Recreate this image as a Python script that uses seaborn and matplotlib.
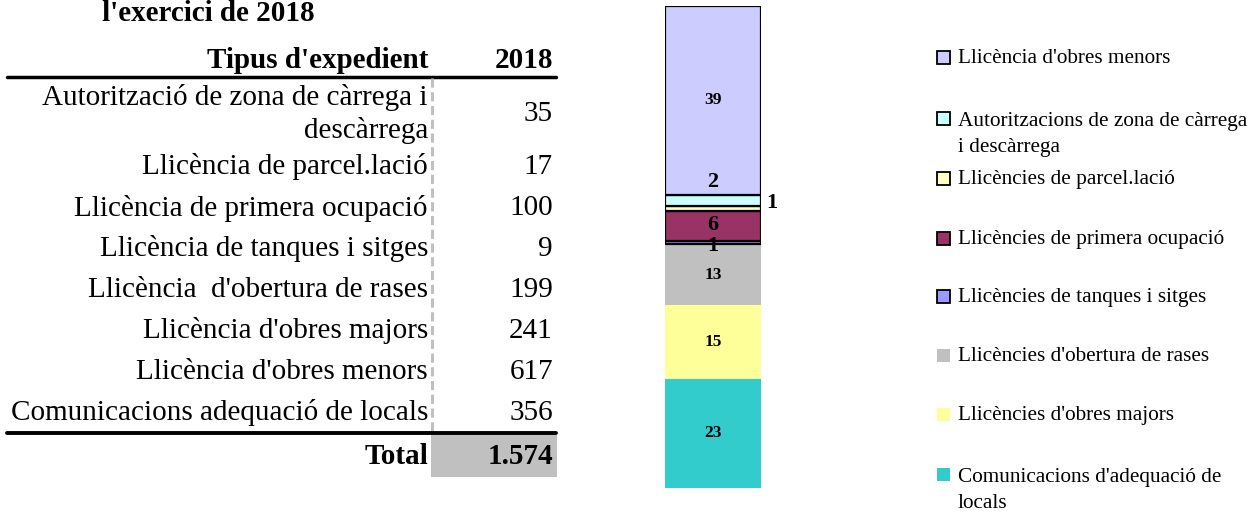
import matplotlib
matplotlib.use("Agg")
import matplotlib.pyplot as plt
from matplotlib.patches import Rectangle
from matplotlib.lines import Line2D
import seaborn as sns
import pandas as pd

# ---------------- data ----------------
table_labels = ["Autorització de zona de càrrega i\ndescàrrega",
                "Llicència de parcel.lació",
                "Llicència de primera ocupació",
                "Llicència de tanques i sitges",
                "Llicència  d'obertura de rases",
                "Llicència d'obres majors",
                "Llicència d'obres menors",
                "Comunicacions adequació de locals"]
table_values = [35, 17, 100, 9, 199, 241, 617, 356]
total_label = "1.574"

# stacked bar segments, bottom -> top
seg_names = ["Comunicacions d'adequació de\nlocals",
             "Llicències d'obres majors",
             "Llicències d'obertura de rases",
             "Llicències de tanques i sitges",
             "Llicències de primera ocupació",
             "Llicències de parcel.lació",
             "Autoritzacions de zona de càrrega\ni descàrrega",
             "Llicència d'obres menors"]
seg_counts = [356, 241, 199, 9, 100, 17, 35, 617]
seg_labels = [23, 15, 13, 1, 6, 1, 2, 39]
seg_colors = ["#33CCCC", "#FFFF99", "#C0C0C0", "#9999FF",
              "#993366", "#FFFFCC", "#CCFFFF", "#CCCCFF"]
seg_edge = [False, False, False, True, True, True, True, True]
seg_lab_mode = ["center", "center", "center", "center", "center", "right", "above", "center"]
seg_lab_size = [12.5, 12.5, 12.5, 16, 16, 16, 16, 12.5]
seg_lab_dy = [0, 0, 0, -2, 1, 4, 2, 0]

legend_order = [7, 6, 5, 4, 3, 2, 1, 0]

serif = ["Liberation Serif", "DejaVu Serif"]

sns.set_theme(style="white")
plt.rcParams["font.family"] = serif
plt.rcParams["text.color"] = "black"

W, H = 1259, 514
fig = plt.figure(figsize=(W / 100, H / 100), dpi=100)

# ---------------- table (pixel coordinate axes) ----------------
tax = fig.add_axes([0, 0, 600 / W, 1])
tax.set_xlim(0, 600)
tax.set_ylim(H, 0)
tax.axis("off")

FS = 21
tax.text(208, 21, "l'exercici de 2018", ha="center", va="baseline",
         fontsize=21, fontweight="bold")
tax.text(428, 60, "Tipus d'expedient", ha="right", va="center",
         fontsize=FS, fontweight="bold")
tax.text(553, 60, "2018", ha="right", va="center", fontsize=FS, fontweight="bold")
tax.add_line(Line2D([7, 556], [77, 77], color="black", lw=2.5))

row_y = [114, 167, 208, 249, 290, 331, 372, 413]
for lab, val, y in zip(table_labels, table_values, row_y):
    tax.text(428, y, lab, ha="right", va="center", fontsize=FS, linespacing=1.32)
    tax.text(553, y, str(val), ha="right", va="center", fontsize=FS)

tax.add_line(Line2D([432, 432], [78, 432], color="#C0C0C0", lw=2.2,
                    linestyle=(0, (3, 1.5))))
tax.add_line(Line2D([7, 556], [433, 433], color="black", lw=2.8))
tax.add_patch(Rectangle((431, 435), 126, 42, facecolor="#C0C0C0", edgecolor="none"))
tax.text(428, 456, "Total", ha="right", va="center", fontsize=FS, fontweight="bold")
tax.text(553, 456, total_label, ha="right", va="center", fontsize=FS, fontweight="bold")

# ---------------- stacked bar ----------------
bax = fig.add_axes([665 / W, (H - 488) / H, 96 / W, 482 / H])
total = sum(seg_counts)
pcts = [c / total * 100 for c in seg_counts]
bottom = 0.0
for name, p, col, edge in zip(seg_names, pcts, seg_colors, seg_edge):
    df = pd.DataFrame({"cat": ["2018"], "pct": [p]})
    sns.barplot(data=df, x="cat", y="pct", bottom=bottom, color=col, saturation=1,
                width=1.0, edgecolor="black" if edge else "none",
                linewidth=1.6 if edge else 0, ax=bax)
    bottom += p
bax.set_xlim(-0.5, 0.5)
bax.set_ylim(0, 100)
bax.axis("off")

bottom = 0.0
for p, lab, mode, fs, dy in zip(pcts, seg_labels, seg_lab_mode, seg_lab_size, seg_lab_dy):
    if mode == "center":
        bax.annotate(str(lab), (0, bottom + p / 2), xytext=(0, dy), textcoords="offset points",
                     ha="center", va="center", fontsize=fs, fontweight="bold")
    elif mode == "above":
        bax.annotate(str(lab), (0, bottom + p), xytext=(0, dy), textcoords="offset points",
                     ha="center", va="bottom", fontsize=fs, fontweight="bold")
    else:
        bax.annotate(str(lab), (0.5, bottom + p / 2), xytext=(3.5, dy), textcoords="offset points",
                     ha="left", va="center", fontsize=fs, fontweight="bold",
                     annotation_clip=False)
    bottom += p

# ---------------- legend (manual, pixel axes) ----------------
lax = fig.add_axes([920 / W, 0, (W - 920) / W, 1])
lax.set_xlim(920, W)
lax.set_ylim(H, 0)
lax.axis("off")
leg_y = [57, 118, 178, 238, 296, 355, 414, 474]
LINE_GAP = 28
for i, y in zip(legend_order, leg_y):
    lax.add_patch(Rectangle((937, y - 6.5), 13, 13, facecolor=seg_colors[i],
                            edgecolor="black" if seg_edge[i] else "none", lw=1.3))
    nlines = seg_names[i].count("\n") + 1
    lax.text(958, y + 6 + (nlines - 1) * LINE_GAP, seg_names[i], ha="left", va="baseline",
             fontsize=15.3, linespacing=1.48)

fig.savefig("out.png", dpi=100)
